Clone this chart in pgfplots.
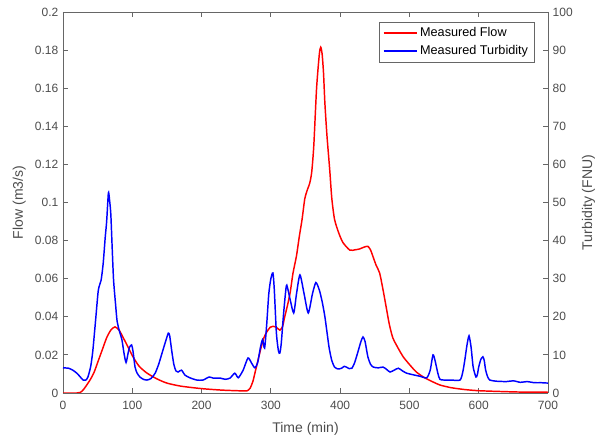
\documentclass[border=0pt]{standalone}
\usepackage{pgfplots}
\pgfplotsset{compat=1.18}
\usepackage{fontspec}
\setmainfont{Liberation Sans}
\definecolor{axgray}{gray}{0.4}
\definecolor{txtgray}{gray}{0.3}
\definecolor{mred}{rgb}{1,0,0}
\definecolor{mblue}{rgb}{0,0,1}

\pgfplotsset{
  common/.style={
    scale only axis, width=363.75pt, height=285.75pt,
    at={(0,0)}, anchor=south west,
    xmin=0, xmax=700, xtick={0,100,200,300,400,500,600,700},
    axis line style={axgray, line width=0.6pt},
    tick style={axgray, line width=0.6pt}, major tick length=3.5pt,
    tick align=inside,
    ticklabel style={font=\fontsize{9}{10}\selectfont, text=txtgray},
    label style={font=\fontsize{10.5}{12}\selectfont, text=txtgray},
    /pgf/number format/assume math mode=true,
    scaled y ticks=false,
  }
}

\pgfplotstableread{
t f
0 0
20 0
25 0.0003
30 0.002
39 0.0068
45 0.011
51 0.017
57 0.023
63 0.029
69 0.033
75 0.0347
81 0.033
87 0.029
94 0.024
101 0.019
110 0.014
121 0.0105
135 0.0075
150 0.0052
170 0.0036
200 0.0023
230 0.0015
260 0.0011
266 0.0012
270 0.0025
274 0.006
278 0.012
282 0.018
286 0.024
290 0.029
294 0.032
299 0.0345
303 0.035
308 0.0345
313 0.033
317 0.035
320 0.040
324 0.046
328 0.053
332 0.063
337 0.072
341 0.082
345 0.091
349 0.102
353 0.107
356 0.110
359 0.116
362 0.130
366 0.160
370 0.178
372 0.1815
374 0.178
376 0.168
378 0.152
381 0.135
385 0.117
388 0.102
392 0.091
398 0.084
404 0.079
414 0.075
422 0.0752
428 0.0756
434 0.0765
440 0.077
444 0.075
448 0.071
452 0.067
457 0.063
462 0.054
467 0.044
471 0.036
476 0.029
483 0.024
491 0.019
500 0.015
510 0.011
522 0.008
534 0.0058
544 0.0042
560 0.0028
580 0.0018
600 0.0012
630 0.0008
660 0.0005
700 0.0004
}\flowtable

\pgfplotstableread{
t v
0 6.6
8 6.5
14 6.0
20 5.2
25 4.2
29 3.4
33 3.4
36 4.2
40 7
43 11
47 19
51 27
55 29.6
58 34
61 41
63 45
65.5 52.5
67 51
69 47
71 38
73 29.6
76 23
78 19
81 16.5
85 14
88 10.5
91 8
94 10.5
96 12
99 12.6
101 11
104 6.8
107 5.2
111 4.2
116 3.6
121 3.4
127 3.8
133 5.2
138 7.5
143 10.5
148 13.5
152 15.7
154 15
157 11
160 7.5
163 5.8
166 5.5
171 6
176 4.7
183 4.0
193 3.4
202 3.4
211 4.2
217 3.9
227 3.9
234 3.6
241 3.9
248 5.2
253 4.0
260 6
267 9.2
272 7.9
277 6.6
281 8
285 12
288 14
291 11.8
294 18
297 26
300 30
303 31.5
305 27
308 15.7
311 11
313 10.5
315 13
318 20
321 26
323 28.3
328 24.4
333 21
337 26
342 31
348 26
354 21
360 26
365 29
370 27
374 24
378 20
384 12
388 8.5
392 6.8
397 6.3
402 6.5
406 7.0
409 6.8
413 6.4
417 6.5
421 8
426 11
430 13.5
433 14.7
436 13.5
440 9.5
444 7.5
448 6.8
455 6.6
462 6.8
467 6.2
472 5.5
478 6.0
484 6.5
490 5.8
496 5.2
505 4.8
515 4.4
525 4.0
530 6
534 10
537 8.5
541 5.2
544 3.6
550 3.4
560 3.4
573 3.4
577 5.5
580 8.7
583 12.5
586 15
589 12
592 6.8
596 4.2
598 4.8
600 6.8
603 8.8
606 9.5
608 8.5
610 6
613 4.2
616 3.4
625 3.1
640 3.0
650 3.2
660 2.8
670 3.0
680 2.7
690 2.7
700 2.6
}\turbtable

\begin{document}
\begin{tikzpicture}
\useasboundingbox (-47.25pt,-31.5pt) rectangle (402.75pt,294.75pt);
\begin{axis}[common,
  axis y line*=left,
  ymin=0, ymax=0.2,
  ytick={0,0.02,0.04,0.06,0.08,0.1,0.12,0.14,0.16,0.18,0.2},
  yticklabel style={/pgf/number format/fixed, /pgf/number format/precision=2},
  xticklabel shift=2.5pt,
  xlabel shift=2.5pt,
  xlabel={Time (min)}, ylabel={Flow (m3/s)},
  legend cell align=left,
  legend image post style={xscale=1.45},
  legend style={at={(1,1)}, anchor=north east, xshift=-9.75pt, yshift=-7.5pt,
    draw=axgray, font=\fontsize{9.5}{11}\selectfont,
    inner xsep=3pt, inner ysep=2pt, row sep=1pt},
]
\addplot[mred, line width=1.1pt, smooth, tension=0.4] table[x=t, y=f] {\flowtable};
\addlegendentry{Measured Flow}
\addlegendimage{mblue, line width=1.1pt}
\addlegendentry{Measured Turbidity}
\end{axis}
\begin{axis}[common,
  axis y line*=right, axis x line=none,
  ymin=0, ymax=100,
  ytick={0,10,20,30,40,50,60,70,80,90,100},
  ylabel={Turbidity (FNU)},
]
\addplot[mblue, line width=1.1pt, smooth, tension=0.4] table[x=t, y=v] {\turbtable};
\end{axis}
\end{tikzpicture}
\end{document}
